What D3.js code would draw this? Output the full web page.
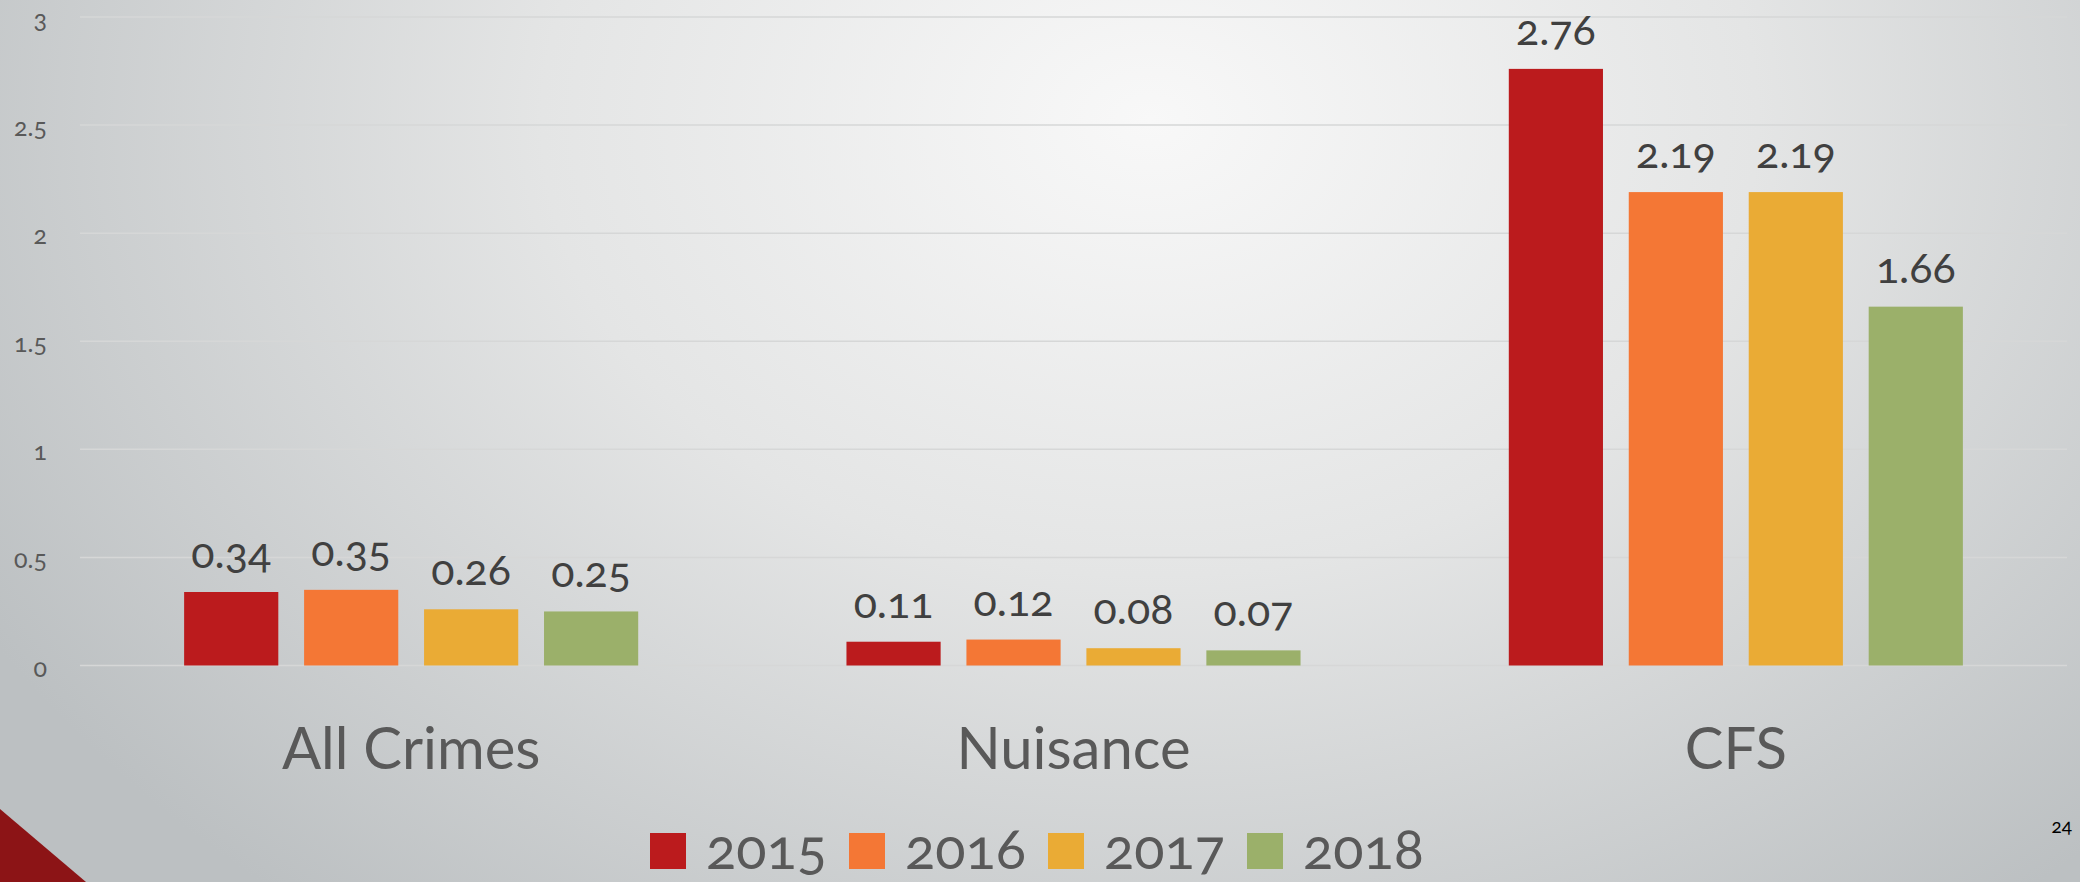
<!DOCTYPE html>
<meta charset="utf-8">
<style>
  body { margin: 0; overflow: hidden; }
  text { font-family: Lato, "Noto Sans", sans-serif; font-variant-numeric: oldstyle-nums; }
</style>
<script src="https://d3js.org/d3.v7.min.js"></script>
<div id="chart"></div>
<script>

// data
var categories = ["All Crimes", "Nuisance", "CFS"];
var years = ["2015", "2016", "2017", "2018"];
var v2015 = [0.34, 0.11, 2.76];
var v2016 = [0.35, 0.12, 2.19];
var v2017 = [0.26, 0.08, 2.19];
var v2018 = [0.25, 0.07, 1.66];
var yTicks = [0, 0.5, 1, 1.5, 2, 2.5, 3];
var colors = ["#bb1b1d", "#f47735", "#eaab35", "#9bb06a"];

var series = [v2015, v2016, v2017, v2018];

var W = 2080, H = 882;

var svg = d3.select("#chart").append("svg")
    .attr("width", W)
    .attr("height", H);

// background
var defs = svg.append("defs");
var grad = defs.append("radialGradient")
    .attr("id", "bg")
    .attr("gradientUnits", "userSpaceOnUse")
    .attr("cx", 1150).attr("cy", 120).attr("r", 1350)
    .attr("gradientTransform", "translate(1150,120) scale(1,0.75) translate(-1150,-120)");
grad.append("stop").attr("offset", 0).attr("stop-color", "#f8f8f8");
grad.append("stop").attr("offset", 0.45).attr("stop-color", "#e4e5e5");
grad.append("stop").attr("offset", 1).attr("stop-color", "#bcc0c2");

svg.append("rect")
    .attr("width", W).attr("height", H)
    .attr("fill", "url(#bg)");

// scales
var x0 = d3.scaleBand()
    .domain(categories)
    .range([80, 2067]);

var x1 = d3.scaleBand()
    .domain(years)
    .range([0, x0.bandwidth()])
    .paddingInner(0.215)
    .paddingOuter(0.868);

var y = d3.scaleLinear()
    .domain([0, 3])
    .range([665.5, 17]);

// gridlines
svg.append("g")
  .selectAll("line")
  .data(yTicks)
  .enter()
  .append("line")
    .attr("x1", 80)
    .attr("x2", 2067)
    .attr("y1", function(d) { return y(d); })
    .attr("y2", function(d) { return y(d); })
    .attr("stroke", "#d6d7d7")
    .attr("stroke-width", 1.5);

// y labels
svg.append("g")
  .selectAll("text")
  .data(yTicks)
  .enter()
  .append("text")
    .attr("x", 47)
    .attr("y", function(d) { return y(d) + 11; })
    .attr("text-anchor", "end")
    .attr("fill", "#595959")
    .style("font-size", "25px")
    .text(function(d) { return String(d); });

// bars + labels
years.forEach(function(yr, i) {
  var g = svg.append("g");
  g.selectAll("rect")
    .data(series[i])
    .enter()
    .append("rect")
      .attr("x", function(d, j) { return x0(categories[j]) + x1(yr); })
      .attr("y", function(d) { return y(d); })
      .attr("width", x1.bandwidth())
      .attr("height", function(d) { return y(0) - y(d); })
      .attr("fill", colors[i]);

  g.selectAll("text")
    .data(series[i])
    .enter()
    .append("text")
      .attr("x", function(d, j) { return x0(categories[j]) + x1(yr) + x1.bandwidth() / 2; })
      .attr("y", function(d) { return y(d) - 24; })
      .attr("text-anchor", "middle")
      .attr("fill", "#404040")
      .style("font-size", "43px")
      .text(function(d) { return d.toFixed(2); });
});

// category labels
svg.append("g")
  .selectAll("text")
  .data(categories)
  .enter()
  .append("text")
    .attr("x", function(d) { return x0(d) + x0.bandwidth() / 2; })
    .attr("y", 769)
    .attr("text-anchor", "middle")
    .attr("fill", "#595959")
    .style("font-size", "58px")
    .text(function(d) { return d; });

// legend
var lx = d3.scaleBand()
    .domain(years)
    .range([650, 650 + 4 * 199]);

var leg = svg.append("g")
  .selectAll("g")
  .data(years)
  .enter()
  .append("g")
    .attr("transform", function(d) { return "translate(" + lx(d) + ",0)"; });

leg.append("rect")
    .attr("x", 0)
    .attr("y", 833)
    .attr("width", 36)
    .attr("height", 36)
    .attr("fill", function(d, i) { return colors[i]; });

leg.append("text")
    .attr("x", 56)
    .attr("y", 869)
    .attr("fill", "#595959")
    .style("font-size", "56px")
    .text(function(d) { return d; });

// corner triangle
svg.append("path")
    .attr("d", "M0,809L86,882L0,882Z")
    .attr("fill", "#8c1416");

// slide number
svg.append("text")
    .attr("x", 2072)
    .attr("y", 833)
    .attr("text-anchor", "end")
    .attr("fill", "#000")
    .style("font-size", "19px")
    .text("24");

</script>
